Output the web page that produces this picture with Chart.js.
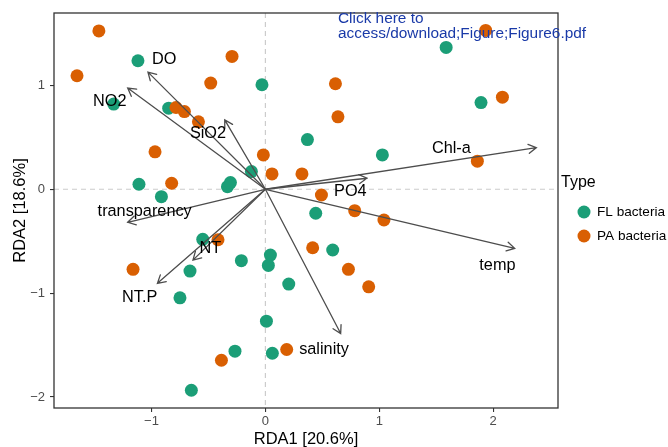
<!DOCTYPE html>
<html>
<head>
<meta charset="utf-8">
<script src="https://cdn.jsdelivr.net/npm/chart.js@4/dist/chart.umd.min.js"></script>
<style>
  html, body { margin: 0; padding: 0; background: #fff; }
</style>
</head>
<body>
<canvas id="rdaChart" width="668" height="447"></canvas>
<script>
// sample scores (RDA1, RDA2)
const flX = [-1.119, -1.332, -0.849, -0.030, 0.369, 1.027, 1.587, 1.893, -0.123, -0.333, -0.307, -1.110, -0.913, 0.442, 0.591, -0.550, -0.662, -0.750, -0.211, 0.044, 0.026, 0.205, 0.009, -0.267, 0.061, -0.650];
const flY = [1.237, 0.820, 0.781, 1.006, 0.478, 0.331, 1.366, 0.835, 0.170, 0.025, 0.064, 0.048, -0.071, -0.231, -0.585, -0.482, -0.788, -1.045, -0.688, -0.634, -0.733, -0.913, -1.270, -1.559, -1.579, -1.935];
const paX = [-1.462, -1.654, -0.480, -0.293, -0.785, -0.711, -0.588, -0.969, -0.823, -0.018, 0.058, 0.321, 0.615, 0.637, 0.492, 0.784, 1.041, 0.415, 0.729, 0.907, 0.187, -0.386, -1.162, -0.416, 1.934, 2.081, 1.861];
const paY = [1.524, 1.093, 1.022, 1.279, 0.787, 0.748, 0.649, 0.360, 0.058, 0.331, 0.148, 0.148, 1.016, 0.697, -0.055, -0.206, -0.296, -0.563, -0.771, -0.939, -1.543, -1.646, -0.771, -0.486, 1.529, 0.887, 0.270];

// environmental vectors: arrow tips and label positions
const envNames = ['DO', 'NO2', 'SiO2', 'Chl-a', 'PO4', 'temp', 'salinity', 'NT.P', 'NT', 'transparency'];
const envX = [-1.031, -1.209, -0.357, 2.379, 0.892, 2.189, 0.661, -0.948, -0.636, -1.209];
const envY = [1.128, 0.974, 0.668, 0.401, 0.106, -0.569, -1.389, -0.906, -0.682, -0.318];
const envLabelX = [-0.889, -1.367, -0.504, 1.633, 0.746, 2.037, 0.515, -1.104, -0.483, -1.060];
const envLabelY = [1.247, 0.845, 0.533, 0.395, -0.023, -0.730, -1.540, -1.041, -0.569, -0.216];

const xTicks = [-1, 0, 1, 2];
const xTickLabels = ['\u22121', '0', '1', '2'];
const yTicks = [-2, -1, 0, 1];
const yTickLabels = ['\u22122', '\u22121', '0', '1'];

const groups = ['FL bacteria', 'PA bacteria'];
const groupColors = ['#1b9e77', '#d95f02'];

const FONT = '"Liberation Sans", Arial, Helvetica, sans-serif';

function toPoints(xs, ys) {
    return xs.map((x, i) => ({ x: x, y: ys[i] }));
}

const rdaPlugin = {
    id: 'rdaExtras',
    beforeDatasetsDraw(chart) {
        const { ctx, chartArea: a, scales: { x, y } } = chart;
        ctx.save();
        ctx.strokeStyle = '#cccccc';
        ctx.lineWidth = 1.2;
        ctx.setLineDash([5, 4]);
        const x0 = x.getPixelForValue(0);
        const y0 = y.getPixelForValue(0);
        ctx.beginPath();
        ctx.moveTo(x0, a.top);
        ctx.lineTo(x0, a.bottom);
        ctx.moveTo(a.left, y0);
        ctx.lineTo(a.right, y0);
        ctx.stroke();
        ctx.restore();
    },
    afterDatasetsDraw(chart) {
        const { ctx, scales: { x, y } } = chart;
        const ox = x.getPixelForValue(0);
        const oy = y.getPixelForValue(0);
        ctx.save();
        ctx.strokeStyle = '#4d4d4d';
        ctx.lineWidth = 1.3;
        ctx.lineCap = 'round';
        for (let i = 0; i < envNames.length; i++) {
            const tx = x.getPixelForValue(envX[i]);
            const ty = y.getPixelForValue(envY[i]);
            const ang = Math.atan2(ty - oy, tx - ox);
            const len = 9;
            ctx.beginPath();
            ctx.moveTo(ox, oy);
            ctx.lineTo(tx, ty);
            ctx.moveTo(tx - len * Math.cos(ang - Math.PI / 6), ty - len * Math.sin(ang - Math.PI / 6));
            ctx.lineTo(tx, ty);
            ctx.lineTo(tx - len * Math.cos(ang + Math.PI / 6), ty - len * Math.sin(ang + Math.PI / 6));
            ctx.stroke();
        }
        ctx.fillStyle = '#000';
        ctx.font = '16.3px ' + FONT;
        ctx.textAlign = 'center';
        ctx.textBaseline = 'middle';
        for (let i = 0; i < envNames.length; i++) {
            ctx.fillText(envNames[i], x.getPixelForValue(envLabelX[i]), y.getPixelForValue(envLabelY[i]));
        }
        ctx.restore();
    },
    afterDraw(chart) {
        const { ctx, chartArea: a } = chart;
        ctx.save();
        // panel border
        ctx.strokeStyle = '#333333';
        ctx.lineWidth = 1.3;
        ctx.strokeRect(a.left, a.top, a.right - a.left, a.bottom - a.top);

        // legend
        ctx.fillStyle = '#000';
        ctx.textAlign = 'left';
        ctx.textBaseline = 'middle';
        ctx.font = '16px ' + FONT;
        ctx.fillText('Type', 561, 183);
        ctx.font = '13.6px ' + FONT;
        groups.forEach((g, i) => {
            const cy = 212 + i * 24;
            ctx.fillStyle = groupColors[i];
            ctx.beginPath();
            ctx.arc(584, cy, 6.5, 0, Math.PI * 2);
            ctx.fill();
            ctx.fillStyle = '#000';
            ctx.fillText(g, 597, cy);
        });

        // stamp text
        ctx.fillStyle = '#1a3aa8';
        ctx.font = '15.4px ' + FONT;
        ctx.fillText('Click here to', 338, 19);
        ctx.fillText('access/download;Figure;Figure6.pdf', 338, 33.5);
        ctx.restore();
    }
};

const ctx = document.getElementById('rdaChart').getContext('2d');
const myChart = new Chart(ctx, {
    type: 'scatter',
    data: {
        datasets: [{
            label: groups[0],
            data: toPoints(flX, flY),
            backgroundColor: groupColors[0],
            borderWidth: 0,
            pointRadius: 6.5,
            pointHoverRadius: 6.5,
            order: 1
        }, {
            label: groups[1],
            data: toPoints(paX, paY),
            backgroundColor: groupColors[1],
            borderWidth: 0,
            pointRadius: 6.5,
            pointHoverRadius: 6.5,
            order: 0
        }]
    },
    options: {
        responsive: false,
        animation: false,
        events: [],
        layout: {
            padding: { top: 13, right: 110, bottom: 0, left: 0 }
        },
        plugins: {
            legend: { display: false },
            tooltip: { enabled: false }
        },
        scales: {
            x: {
                type: 'linear',
                min: -1.856,
                max: 2.569,
                afterFit: (scale) => { scale.height = 39; },
                afterBuildTicks: (scale) => { scale.ticks = xTicks.map(v => ({ value: v })); },
                grid: { drawOnChartArea: false, drawTicks: true, tickLength: 4, color: '#333333', lineWidth: 1.1 },
                border: { display: false },
                ticks: {
                    padding: 2,
                    color: '#4d4d4d',
                    font: { family: FONT, size: 13 },
                    callback: (v, i) => xTickLabels[i]
                },
                title: {
                    display: true,
                    text: 'RDA1 [20.6%]',
                    color: '#000',
                    font: { family: FONT, size: 16.5, lineHeight: 1 },
                    padding: { top: 0, bottom: -1 }
                }
            },
            y: {
                type: 'linear',
                min: -2.106,
                max: 1.697,
                afterFit: (scale) => { scale.width = 54; },
                afterBuildTicks: (scale) => { scale.ticks = yTicks.map(v => ({ value: v })); },
                grid: { drawOnChartArea: false, drawTicks: true, tickLength: 4, color: '#333333', lineWidth: 1.1 },
                border: { display: false },
                ticks: {
                    padding: 5,
                    color: '#4d4d4d',
                    font: { family: FONT, size: 13 },
                    callback: (v, i) => yTickLabels[i]
                },
                title: {
                    display: true,
                    text: 'RDA2 [18.6%]',
                    color: '#000',
                    font: { family: FONT, size: 16.5, lineHeight: 1 },
                    padding: { top: 12, bottom: 0 }
                }
            }
        }
    },
    plugins: [rdaPlugin]
});
</script>
</body>
</html>
